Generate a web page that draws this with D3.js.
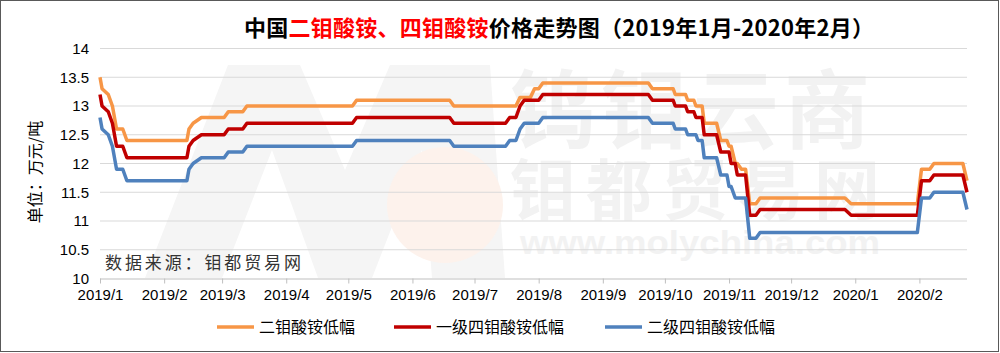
<!DOCTYPE html>
<html>
<head>
<meta charset="utf-8">
<script src="https://cdn.jsdelivr.net/npm/d3@7"></script>
<style>
  body { margin: 0; background: #fff; }
  svg { display: block; }
</style>
</head>
<body>
<div id="chart"></div>
<script>
// price readings (万元/吨), one entry per date below
const dates = [
  '2019-01-01', '2019-01-02', '2019-01-05', '2019-01-07', '2019-01-09', '2019-01-12', '2019-01-14',
  '2019-02-12', '2019-02-13', '2019-02-15', '2019-02-19',
  '2019-03-02', '2019-03-04', '2019-03-11', '2019-03-13',
  '2019-05-03', '2019-05-05', '2019-06-19', '2019-06-21',
  '2019-07-16', '2019-07-18', '2019-07-21', '2019-07-23', '2019-07-25', '2019-07-28', '2019-07-30', '2019-08-01', '2019-08-03',
  '2019-09-23', '2019-09-25', '2019-10-05', '2019-10-06', '2019-10-11', '2019-10-12', '2019-10-15', '2019-10-16', '2019-10-17', '2019-10-19',
  '2019-10-20', '2019-10-26', '2019-10-28', '2019-10-31', '2019-11-01', '2019-11-02', '2019-11-04', '2019-11-05', '2019-11-07', '2019-11-09',
  '2019-11-11', '2019-11-14', '2019-11-16', '2019-12-27', '2019-12-30',
  '2020-01-31', '2020-02-02', '2020-02-06', '2020-02-08', '2020-02-22', '2020-02-24'
];

const dimolybdate = [
  13.5, 13.3, 13.2, 13.0, 12.6, 12.6, 12.4,
  12.4, 12.6, 12.7, 12.8,
  12.8, 12.9, 12.9, 13.0,
  13.0, 13.1, 13.1, 13.0,
  13.0, 13.0, 13.0, 13.15, 13.15, 13.15, 13.3, 13.3, 13.4,
  13.4, 13.3, 13.3, 13.2, 13.2, 13.1, 13.1, 13.0, 13.0, 13.0,
  12.7, 12.7, 12.4, 12.4, 12.3, 12.3, 12.0, 12.0, 11.9, 11.9,
  11.3, 11.3, 11.4, 11.4, 11.3,
  11.3, 11.9, 11.9, 12.0, 12.0, 11.7
];

const tetraGrade1 = [
  13.2, 13.0, 12.9, 12.7, 12.3, 12.3, 12.1,
  12.1, 12.3, 12.4, 12.5,
  12.5, 12.6, 12.6, 12.7,
  12.7, 12.8, 12.8, 12.7,
  12.7, 12.8, 12.8, 13.0, 13.1, 13.1, 13.1, 13.1, 13.2,
  13.2, 13.1, 13.1, 13.0, 13.0, 12.9, 12.9, 12.8, 12.8, 12.8,
  12.5, 12.5, 12.2, 12.2, 12.2, 12.0, 12.0, 11.8, 11.8, 11.8,
  11.1, 11.1, 11.2, 11.2, 11.1,
  11.1, 11.7, 11.7, 11.8, 11.8, 11.5
];

const tetraGrade2 = [
  12.8, 12.6, 12.5, 12.3, 11.9, 11.9, 11.7,
  11.7, 11.9, 12.0, 12.1,
  12.1, 12.2, 12.2, 12.3,
  12.3, 12.4, 12.4, 12.3,
  12.3, 12.4, 12.4, 12.6, 12.7, 12.7, 12.7, 12.7, 12.8,
  12.8, 12.7, 12.7, 12.6, 12.6, 12.5, 12.5, 12.5, 12.4, 12.4,
  12.1, 12.1, 11.8, 11.8, 11.6, 11.6, 11.4, 11.4, 11.4, 11.4,
  10.7, 10.7, 10.8, 10.8, 10.8,
  10.8, 11.4, 11.4, 11.5, 11.5, 11.2
];

const seriesNames = [ '二钼酸铵低幅', '一级四钼酸铵低幅', '二级四钼酸铵低幅' ];
const seriesColors = [ '#f79646', '#c00000', '#4f81bd' ];
const yTicks = [ 10, 10.5, 11, 11.5, 12, 12.5, 13, 13.5, 14 ];
const monthTicks = [
  '2019-01-01', '2019-02-01', '2019-03-01', '2019-04-01', '2019-05-01', '2019-06-01', '2019-07-01',
  '2019-08-01', '2019-09-01', '2019-10-01', '2019-11-01', '2019-12-01', '2020-01-01', '2020-02-01'
];

const W = 1000, H = 353;
const margin = { top: 48.5, right: 33, bottom: 74.5, left: 100 };
const width = W - margin.left - margin.right,
  height = H - margin.top - margin.bottom;

const parse = d3.timeParse('%Y-%m-%d');
const fmt = d3.timeFormat('%Y/%-m');
const days = dates.map(parse);

const x = d3.scaleTime().domain(d3.extent(days)).range([ 0, width ]);
const y = d3.scaleLinear().domain([ 10, 14 ]).range([ height, 0 ]);

const svg = d3.select('#chart').
  append('svg').
  attr('width', W).
  attr('height', H).
  style('font-family', '"Liberation Sans", Arial, sans-serif');

// faint watermark (site logo) behind the plot
const wm = svg.append('g').attr('class', 'watermark');
wm.append('path').
  attr('d', 'M145,278L228,65L300,65L345,170L390,65L490,65L505,278L432,278L422,150L372,278L318,278L272,150L222,278Z').
  attr('fill', '#f5f5f5');
wm.append('circle').attr('cx', 445).attr('cy', 205).attr('r', 58).attr('fill', '#fdf2ec');
// one text element holding the three watermark lines
const wmText = wm.append('text').
  attr('fill', '#f2f2f2').
  attr('font-weight', 'bold');
wmText.append('tspan').attr('x', 510).attr('y', 142).
  style('font-family', '"Noto Sans CJK SC"').attr('font-size', 86).
  attr('textLength', 360).text('钨钼云商');
wmText.append('tspan').attr('x', 510).attr('y', 214).
  style('font-family', '"Noto Sans CJK SC"').attr('font-size', 66).
  attr('textLength', 370).text('钼都贸易网');
wmText.append('tspan').attr('x', 520).attr('y', 254).
  attr('font-size', 33).
  attr('textLength', 360).attr('lengthAdjust', 'spacingAndGlyphs').text('www.molychina.com');

const chart = svg.append('g').
  attr('transform', 'translate(' + margin.left + ',' + margin.top + ')');

// horizontal gridlines + y labels
chart.append('g').attr('class', 'grid').
  selectAll('line').
  data(yTicks.filter(function(d) { return d > 10; })).
  enter().append('line').
    attr('x1', 0).attr('x2', width).
    attr('y1', function(d) { return y(d); }).
    attr('y2', function(d) { return y(d); }).
    attr('stroke', '#d9d9d9').attr('stroke-width', 1);

chart.append('g').attr('class', 'y labels').
  selectAll('text').
  data(yTicks).
  enter().append('text').
    attr('x', -11).
    attr('y', function(d) { return y(d); }).
    attr('dy', '0.35em').
    attr('text-anchor', 'end').
    attr('font-size', 15).
    attr('fill', '#000').
    text(function(d) { return d; });

// x axis
const xAxis = d3.axisBottom(x).
  tickValues(monthTicks.map(parse)).
  tickFormat(fmt).
  tickSize(5).
  tickPadding(6);
const gx = chart.append('g').attr('class', 'x axis').
  attr('transform', 'translate(0,' + height + ')').
  call(xAxis);
gx.select('.domain').attr('stroke', '#bfbfbf').attr('d', 'M0,0.5H' + width);
gx.selectAll('.tick line').attr('stroke', '#bfbfbf');
gx.selectAll('.tick text').
  attr('font-size', 15).
  attr('fill', '#000').
  style('font-family', '"Liberation Sans", Arial, sans-serif');

// lines
const line = d3.line().
  x(function(d) { return x(d[0]); }).
  y(function(d) { return y(d[1]); });

[ dimolybdate, tetraGrade1, tetraGrade2 ].forEach((vals, idx) => {
  chart.append('path').
    datum(vals.map(function(v, i) { return [ days[i], v ]; })).
    attr('fill', 'none').
    attr('stroke', seriesColors[idx]).
    attr('stroke-width', 3.5).
    attr('stroke-linejoin', 'round').
    attr('d', line);
});

// data source note
chart.append('text').
  attr('x', 5).attr('y', height - 10).
  style('font-family', '"Noto Sans CJK SC", sans-serif').
  attr('font-size', 17).
  attr('fill', '#333').
  attr('textLength', 196).
  text('数据来源：钼都贸易网');

// y axis title
svg.append('text').
  attr('transform', 'translate(35,172) rotate(-90)').
  attr('text-anchor', 'middle').
  attr('dy', '0.35em').
  style('font-family', '"Noto Sans CJK SC", sans-serif').
  attr('font-size', 16).
  attr('fill', '#000').
  text('单位：万元/吨');

// title
const title = svg.append('text').
  attr('x', 244).attr('y', 36).
  style('font-family', '"Noto Sans CJK SC", sans-serif').
  attr('font-size', 22).
  attr('font-weight', 'bold').
  attr('textLength', 630);
title.append('tspan').attr('fill', '#000').text('中国');
title.append('tspan').attr('fill', '#ff0000').text('二钼酸铵、四钼酸铵');
title.append('tspan').attr('fill', '#000').text('价格走势图（2019年1月-2020年2月）');

// legend
const legendX = [ 217, 394, 605 ];
const legend = svg.append('g').attr('class', 'legend');
seriesNames.forEach((name, idx) => {
  legend.append('line').
    attr('x1', legendX[idx]).attr('x2', legendX[idx] + 37).
    attr('y1', 327).attr('y2', 327).
    attr('stroke', seriesColors[idx]).
    attr('stroke-width', 3.5);
  legend.append('text').
    attr('x', legendX[idx] + 42).attr('y', 327).
    attr('dy', '0.35em').
    style('font-family', '"Noto Sans CJK SC", sans-serif').
    attr('font-size', 16).
    attr('fill', '#000').
    text(name);
});

// outer border
svg.append('rect').
  attr('x', 0.5).attr('y', 0.5).
  attr('width', W - 2).attr('height', H - 2).
  attr('fill', 'none').
  attr('stroke', '#595959');
</script>
</body>
</html>
